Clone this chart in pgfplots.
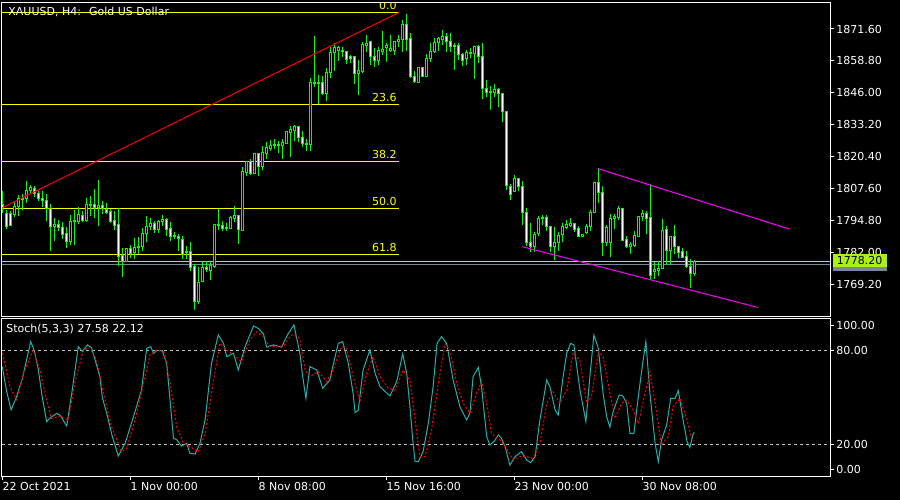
\documentclass[border=0pt]{standalone}
\usepackage{pgfplots}
\pgfplotsset{compat=1.18}
\usepackage{pgfplotstable}
\usepackage{fontspec}
\setmainfont{DejaVu Sans}

\definecolor{cand}{RGB}{0,255,0}
\definecolor{stochmain}{RGB}{32,178,170}
\definecolor{bidline}{RGB}{170,240,20}
\definecolor{askline}{RGB}{119,136,153}
\definecolor{fib}{RGB}{255,255,0}
\definecolor{chan}{RGB}{255,0,255}
\definecolor{lvl}{RGB}{192,192,192}

% XAUUSD H4 bars: index, open, high, low, close
\pgfplotstableread{
k o h l c
0 1801.2 1806.4 1797.6 1800.0
1 1797.6 1798.8 1791.2 1792.4
2 1797.6 1798.4 1792.4 1792.8
3 1797.2 1802.0 1796.0 1800.4
4 1800.4 1804.8 1796.4 1803.6
5 1803.6 1805.2 1798.8 1803.2
6 1803.6 1810.4 1801.6 1806.8
7 1806.8 1808.8 1805.2 1808.0
8 1807.6 1808.4 1804.0 1805.6
9 1805.6 1806.4 1802.4 1803.6
10 1803.6 1806.4 1800.0 1802.8
11 1802.8 1805.2 1794.4 1799.6
12 1799.6 1801.2 1782.4 1792.4
13 1792.4 1795.6 1786.4 1793.2
14 1793.2 1794.8 1790.4 1792.0
15 1792.0 1794.0 1787.2 1789.2
16 1789.6 1792.0 1783.6 1786.4
17 1786.4 1796.8 1784.8 1794.4
18 1794.4 1798.8 1784.8 1794.8
19 1794.4 1800.0 1793.2 1797.2
20 1796.8 1798.4 1794.0 1794.8
21 1794.8 1803.6 1794.0 1801.2
22 1800.8 1804.4 1796.4 1801.2
23 1801.2 1807.2 1795.6 1800.0
24 1800.0 1810.8 1792.4 1800.8
25 1800.8 1802.4 1797.2 1799.6
26 1799.2 1801.6 1797.2 1798.0
27 1798.4 1799.2 1793.6 1794.4
28 1794.8 1798.4 1790.8 1792.8
29 1793.2 1799.6 1776.4 1780.4
30 1780.8 1783.6 1772.0 1778.4
31 1778.4 1783.6 1778.0 1783.6
32 1783.6 1784.8 1779.6 1781.6
33 1782.0 1787.6 1779.2 1784.0
34 1784.0 1788.0 1781.2 1784.4
35 1784.4 1791.6 1782.4 1789.6
36 1789.6 1796.4 1786.0 1792.4
37 1792.4 1795.6 1790.8 1793.6
38 1793.6 1794.4 1789.6 1791.2
39 1791.2 1794.8 1789.6 1794.4
40 1794.4 1796.8 1792.4 1795.2
41 1795.2 1795.6 1788.4 1791.2
42 1791.6 1794.0 1786.4 1788.4
43 1788.8 1790.0 1787.2 1788.4
44 1788.4 1789.2 1782.4 1787.6
45 1787.2 1788.4 1779.2 1781.2
46 1782.0 1784.4 1779.2 1782.4
47 1782.4 1786.0 1774.4 1776.0
48 1776.4 1777.2 1758.8 1762.0
49 1762.0 1776.0 1761.2 1770.0
50 1770.4 1778.4 1770.0 1776.0
51 1776.0 1778.4 1774.0 1775.2
52 1774.8 1778.0 1770.8 1776.8
53 1776.4 1793.2 1775.6 1793.2
54 1792.8 1799.2 1790.8 1793.2
55 1792.8 1794.4 1790.4 1791.6
56 1791.6 1793.6 1790.4 1792.0
57 1791.6 1796.4 1791.2 1796.0
58 1795.6 1800.4 1794.0 1796.8
59 1796.8 1796.8 1785.2 1791.2
60 1790.8 1816.0 1790.8 1814.4
61 1814.0 1818.4 1812.4 1818.4
62 1818.4 1819.2 1812.8 1813.6
63 1813.6 1821.6 1813.6 1821.6
64 1821.6 1821.6 1812.4 1816.4
65 1816.4 1824.8 1814.8 1822.0
66 1821.6 1826.4 1819.2 1824.0
67 1823.6 1827.2 1822.8 1824.8
68 1824.8 1827.6 1823.6 1825.2
69 1825.2 1826.8 1822.0 1824.8
70 1824.8 1827.6 1819.2 1826.0
71 1825.6 1830.4 1825.6 1830.4
72 1830.0 1832.8 1820.4 1831.2
73 1830.8 1833.2 1826.8 1832.4
74 1832.4 1832.8 1826.4 1828.0
75 1828.0 1830.8 1824.4 1825.6
76 1825.6 1827.6 1822.8 1825.2
77 1825.2 1852.0 1822.8 1850.0
78 1849.6 1868.8 1848.4 1850.0
79 1850.0 1853.2 1841.6 1849.6
80 1850.0 1852.8 1845.2 1845.6
81 1845.6 1856.0 1842.8 1854.0
82 1854.0 1864.4 1852.0 1862.0
83 1862.0 1866.0 1854.8 1864.0
84 1862.8 1864.8 1858.8 1864.0
85 1862.8 1864.4 1860.4 1862.4
86 1862.4 1862.8 1857.6 1859.2
87 1860.4 1861.2 1858.0 1859.6
88 1860.4 1860.4 1849.6 1853.6
89 1853.6 1859.2 1845.2 1854.8
90 1854.4 1866.4 1854.0 1865.2
91 1864.8 1869.2 1862.4 1865.6
92 1866.4 1866.4 1857.2 1860.4
93 1860.4 1864.0 1856.4 1858.8
94 1858.8 1864.4 1857.2 1862.8
95 1862.4 1870.8 1861.2 1863.2
96 1864.0 1866.0 1858.4 1864.8
97 1862.8 1869.2 1862.4 1863.6
98 1862.8 1866.4 1861.2 1866.4
99 1866.4 1869.2 1864.4 1867.2
100 1867.2 1875.2 1862.4 1873.6
101 1873.6 1877.6 1862.8 1867.2
102 1867.6 1870.0 1852.0 1852.4
103 1852.4 1854.8 1850.0 1850.4
104 1850.0 1856.4 1850.0 1856.0
105 1856.0 1856.4 1852.4 1852.4
106 1852.4 1861.6 1852.4 1859.6
107 1859.6 1866.0 1858.4 1862.4
108 1862.4 1868.0 1862.0 1866.0
109 1866.0 1868.4 1862.8 1867.6
110 1867.2 1871.2 1865.2 1868.4
111 1868.4 1870.0 1862.4 1866.4
112 1866.4 1870.0 1862.4 1864.4
113 1864.8 1866.0 1855.2 1864.4
114 1864.8 1866.0 1859.2 1861.2
115 1861.2 1862.0 1856.8 1858.8
116 1859.6 1863.2 1857.2 1862.0
117 1861.6 1864.0 1860.0 1862.0
118 1861.6 1864.4 1851.6 1864.4
119 1864.4 1865.2 1858.0 1860.4
120 1860.4 1866.0 1843.6 1847.6
121 1847.6 1851.2 1844.4 1846.0
122 1846.0 1848.8 1839.2 1846.4
123 1846.0 1849.6 1844.4 1847.2
124 1847.2 1848.0 1840.4 1845.6
125 1845.6 1846.0 1834.4 1838.4
126 1838.4 1838.8 1806.8 1808.8
127 1808.4 1809.2 1802.8 1805.2
128 1806.4 1812.8 1806.0 1811.6
129 1811.6 1811.6 1806.4 1808.4
130 1808.4 1810.4 1792.8 1798.0
131 1798.0 1799.6 1784.4 1786.0
132 1786.0 1793.6 1782.0 1784.4
133 1784.4 1790.0 1782.0 1789.2
134 1789.6 1796.4 1788.4 1795.6
135 1795.6 1796.8 1792.8 1796.0
136 1796.0 1796.8 1790.4 1792.4
137 1792.4 1792.4 1782.0 1784.4
138 1784.4 1792.0 1778.8 1786.0
139 1786.0 1790.0 1782.4 1788.8
140 1789.2 1793.6 1786.0 1792.4
141 1792.0 1794.8 1791.2 1793.2
142 1792.8 1795.6 1792.0 1793.6
143 1793.6 1793.6 1790.0 1791.2
144 1791.6 1792.4 1788.4 1788.4
145 1788.4 1789.2 1788.4 1789.2
146 1790.0 1793.2 1789.2 1792.4
147 1792.4 1798.8 1790.4 1798.0
148 1798.0 1810.0 1797.6 1810.0
149 1810.0 1815.6 1801.6 1806.0
150 1806.0 1808.4 1780.4 1786.0
151 1786.0 1792.8 1784.4 1792.0
152 1786.0 1797.2 1780.0 1795.6
153 1795.6 1797.2 1791.2 1796.4
154 1796.0 1800.4 1794.8 1799.6
155 1799.6 1799.6 1786.4 1786.8
156 1787.2 1788.4 1783.6 1784.4
157 1784.4 1786.0 1781.2 1785.2
158 1784.8 1790.4 1784.0 1788.8
159 1788.4 1796.4 1788.4 1796.4
160 1796.4 1798.8 1794.4 1797.6
161 1797.6 1798.4 1789.2 1795.6
162 1796.0 1809.2 1770.8 1772.8
163 1774.4 1778.0 1771.2 1775.2
164 1774.8 1778.4 1772.4 1775.6
165 1775.6 1795.2 1775.2 1790.8
166 1791.2 1792.4 1776.8 1782.8
167 1782.8 1788.4 1777.2 1788.4
168 1788.4 1792.8 1781.2 1784.4
169 1784.4 1784.4 1779.6 1782.0
170 1782.4 1783.6 1779.6 1780.0
171 1780.4 1782.4 1775.6 1776.4
172 1776.4 1779.2 1767.6 1773.6
173 1773.6 1779.0 1772.4 1778.2
}\bars

\pgfplotsset{
  mt4/.style={scale only axis, width=414pt,
    xmin=-0.075, xmax=206.925,
    axis line style={white, line width=0.5pt},
    tick style={white, line width=0.5pt},
    major tick length=2pt, tick align=outside,
    ytick pos=right, yticklabel pos=right,
    tick label style={white, font=\fontsize{5.5}{6.6}\selectfont},
    yticklabel style={anchor=west, inner sep=0pt, xshift=1pt},
    every axis plot/.append style={line width=0.5pt}},
}

\begin{document}
\begin{tikzpicture}[font=\fontsize{5.5}{6.6}\selectfont]
\fill[black] (0,0) rectangle (450pt,250pt);

\begin{axis}[mt4, at={(1pt,92pt)}, anchor=south west, height=157pt,
  ymin=1756.35, ymax=1882.44, xtick=\empty,
  ytick={1769.2,1782,1794.8,1807.6,1820.4,1833.2,1846,1858.8,1871.6},
  yticklabels={1769.20,1782.00,1794.80,1807.60,1820.40,1833.20,1846.00,1858.80,1871.60}]
  % fibonacci levels
  \addplot[fib] coordinates {(-0.075,1878.3) (99.1,1878.3)};
  \addplot[fib] coordinates {(-0.075,1841.4) (99.1,1841.4)};
  \addplot[fib] coordinates {(-0.075,1818.5) (99.1,1818.5)};
  \addplot[fib] coordinates {(-0.075,1799.6) (99.1,1799.6)};
  \addplot[fib] coordinates {(-0.075,1781.1) (99.1,1781.1)};
  % bid / ask
  \addplot[bidline] coordinates {(-0.075,1778.4) (206.925,1778.4)};
  \addplot[askline] coordinates {(-0.075,1777.2) (206.925,1777.2)};
  % candles, one by one: wick, green body, white (bear) or black (bull) core
  \pgfplotsforeachungrouped \i in {0,...,173}{%
    \pgfplotstablegetelem{\i}{k}\of\bars \let\cK=\pgfplotsretval
    \pgfplotstablegetelem{\i}{o}\of\bars \let\cO=\pgfplotsretval
    \pgfplotstablegetelem{\i}{h}\of\bars \let\cH=\pgfplotsretval
    \pgfplotstablegetelem{\i}{l}\of\bars \let\cL=\pgfplotsretval
    \pgfplotstablegetelem{\i}{c}\of\bars \let\cC=\pgfplotsretval
    \pgfmathsetmacro\cB{min(\cO,\cC)-0.2}%
    \pgfmathsetmacro\cT{max(\cO,\cC)+0.2}%
    \pgfmathsetmacro\cIB{\cB+0.4}%
    \pgfmathsetmacro\cIT{\cT-0.4}%
    \ifdim\cC pt<\cO pt \def\cCol{white}\else\def\cCol{black}\fi
    \edef\cDraw{%
      \noexpand\addplot[forget plot, cand, line width=0.5pt] coordinates {(\cK,\cL) (\cK,\cH)};%
      \noexpand\addplot[forget plot, cand, line width=1.5pt] coordinates {(\cK,\cB) (\cK,\cT)};%
    }\cDraw
    \ifdim\cIT pt>\cIB pt
      \edef\cDraw{\noexpand\addplot[forget plot, \cCol, line width=0.5pt] coordinates {(\cK,\cIB) (\cK,\cIT)};}\cDraw
    \fi
  }
  % trend line and channel
  \addplot[red] coordinates {(0.05,1799.9) (99.1,1878.2)};
  \addplot[chan] coordinates {(149,1815.5) (196.9,1791.2)};
  \addplot[chan] coordinates {(130,1784.2) (188.85,1759.8)};
  % fibo labels
  \node[fib, anchor=south east, inner sep=0pt] at (axis cs:98.7,1879.3) {0.0};
  \node[fib, anchor=south east, inner sep=0pt] at (axis cs:98.7,1842.4) {23.6};
  \node[fib, anchor=south east, inner sep=0pt] at (axis cs:98.7,1819.5) {38.2};
  \node[fib, anchor=south east, inner sep=0pt] at (axis cs:98.7,1800.6) {50.0};
  \node[fib, anchor=south east, inner sep=0pt] at (axis cs:98.7,1782.1) {61.8};
\end{axis}

\begin{axis}[mt4, at={(1pt,12pt)}, anchor=south west, height=78.75pt,
  ymin=-0.3, ymax=100.6,
  ytick={4,20,80,96}, yticklabels={0.00,20.00,80.00,100.00},
  xtick={0,32,64,96,128,160},
  xticklabels={22 Oct 2021,1 Nov 00:00,8 Nov 08:00,15 Nov 16:00,23 Nov 00:00,30 Nov 08:00},
  xtick pos=bottom,
  xticklabel style={anchor=north west, inner sep=0pt, yshift=-1pt}]
  \addplot[lvl, dash pattern=on 1.5pt off 1.5pt] coordinates {(-0.075,80) (206.925,80)};
  \addplot[lvl, dash pattern=on 1.5pt off 1.5pt] coordinates {(-0.075,20) (206.925,20)};
  % %K main line
  \addplot[stochmain] coordinates {
    (0,69.8)(1,55)(2.2,42)(3.5,50)(5,62)(7.1,85.8)(8,80)(9,68)(10,50)(11.1,34.5)
    (12,37)(13.6,39.8)(14.5,38.5)(16.1,31.7)(17.5,55)(19,82.6)(20,79.4)(21.3,83.7)
    (22.3,82)(24.4,63.4)(25,50)(26.1,39.9)(27.5,25)(29,12.5)(30.7,20.6)(32.8,37.7)
    (34.8,54.8)(36.1,81.5)(37.1,82.6)(37.8,78.3)(38.6,80)(40,80)(41.1,71.9)(42.8,23.8)
    (43.6,23)(44.8,18.9)(46.1,20.6)(46.9,14.2)(48.2,13.8)(49.4,20.6)(50.7,35.6)
    (52.3,71.9)(54,90.1)(55.3,84.7)(56.1,76.2)(57.8,78.3)(59,67.6)(60.7,82.6)
    (62.8,95.8)(64,94.3)(65.3,90.7)(66.1,82.2)(67.8,83.7)(69.8,82.2)(71.3,90.1)
    (72.9,96.5)(74.4,78.3)(75.1,63.4)(75.9,49.5)(76.9,69.8)(78.6,67.6)(80.1,55.9)
    (81.9,61.2)(82.7,70.8)(84,84.7)(85.1,85.8)(86.5,71.9)(87.7,52.7)(88.2,40.3)
    (89,42)(90.2,67.6)(91.9,80.4)(93.2,65.5)(94.4,57)(96.9,51)(98.6,60.2)(100.1,77.9)
    (101.1,65.5)(101.9,44.1)(102.7,20.6)(103.2,8.9)(104,8.9)(105.2,15.3)(106.5,33.4)
    (107.7,57)(108.7,84.7)(109.8,89)(111.1,84.7)(112.7,61.2)(114.4,44.1)(116.1,35.6)
    (116.9,40)(117.7,63.4)(119,69.3)(119.8,57)(121.1,24.9)(121.9,19.6)(123,22)(124,26)
    (124.8,23.8)(125.7,18.5)(126.9,6.7)(128.2,12.1)(129.8,15.3)(131.1,9.9)(132.1,8.2)
    (133.2,12.1)(134.4,35.6)(136.1,61.2)(136.9,57)(138.2,42)(139,38.8)(140.2,63.4)
    (141.1,78.3)(142.1,84.7)(142.9,83.7)(144.4,55)(145.9,34.5)(146.9,63.4)(147.9,90.1)
    (149,81.5)(150.2,52.7)(151.1,37.7)(151.9,30.9)(152.7,40.9)(154.2,51.6)(155.1,51)
    (156.1,46.3)(156.9,27)(157.9,27)(159,50.5)(160.2,74)(160.9,85.8)(161.9,52.7)
    (163.2,20.6)(164,8.9)(164.8,22.8)(166.1,32.4)(167.1,49.5)(168.2,49.5)(169,54.4)
    (170.2,35.6)(171.2,21.7)(171.9,18)(172.7,26.6)(173,27.58)};
  % %D signal line
  \addplot[red, dash pattern=on 1pt off 1pt] coordinates {
    (0.1,78.3)(1.9,57)(3.6,48.4)(5.3,65.5)(7.7,80.4)(9.4,67.6)(11.1,48.4)(12.3,36.6)
    (14.4,38.1)(16.5,35.6)(18.2,60.2)(20.3,80.4)(21.8,82.2)(23.6,74)(25.3,52.7)
    (27.3,31.3)(29.8,15.3)(31,17)(33.2,35.6)(35.3,59.1)(36.9,77.2)(38.6,80.4)(40.3,79.4)
    (41.9,60.2)(43.6,31.3)(45.3,20.6)(46.9,18.5)(49,15.3)(50.7,27)(52.7,59.1)(54.4,84.7)
    (56.1,80.4)(57.8,77.2)(59.8,73)(61.9,86.9)(63.6,92.2)(65.3,89)(66.9,82.6)(68.6,82.6)
    (70.2,82.6)(72.3,90.1)(74,89)(74.4,86.9)(75.7,67.6)(76.9,63.4)(79,66.6)(81.1,60.2)
    (82.7,67.6)(84.8,82.6)(86.1,81.5)(87.7,63.4)(89.4,47.3)(91.1,65.5)(92.7,76.2)
    (94.4,63.4)(96.5,55.9)(98.2,54.8)(100.2,67.6)(101.9,61.2)(103.2,35.6)(104.4,12.1)
    (105.7,12.1)(107.3,29.2)(109,59.1)(110.7,84.7)(111.9,80.4)(113.6,59.1)(115.2,46.3)
    (116.9,39.9)(118.6,52.7)(119.8,60.2)(121.1,46.3)(122.3,27)(124.4,22.8)(126.1,17.4)
    (127.7,9.9)(129.4,12.1)(131.1,12.1)(132.7,11)(134.4,20.6)(136.1,46.3)(137.7,53.7)
    (139.4,46.3)(141.1,54.8)(142.7,78.3)(144.4,74)(146.1,46.3)(147.3,50.5)(149,79.4)
    (150.2,76.2)(151.9,52.7)(153.2,36.6)(154.8,46.3)(156.1,48.4)(157.7,42)(159,33.4)
    (160.7,52.7)(161.9,66.6)(163.2,46.3)(164.8,19.6)(166.5,24.9)(167.7,44.1)(169.4,49.5)
    (171.1,36.6)(172.3,23.8)(173,22.12)};
\end{axis}

% chart title and indicator caption
\node[white, anchor=west, inner sep=0pt] at (4pt,244.2pt) {XAUUSD, H4:~ Gold US Dollar};
\node[white, anchor=west, inner sep=0pt] at (3pt,85.5pt) {Stoch(5,3,3) 27.58 22.12};
% current price tag on the scale
\fill[askline] (416.3pt,114.65pt) rectangle (443.3pt,116.65pt);
\fill[bidline] (416.3pt,116.65pt) rectangle (443.3pt,123pt);
\node[black, inner sep=0pt] at (429.8pt,119.8pt) {1778.20};
\end{tikzpicture}
\end{document}
